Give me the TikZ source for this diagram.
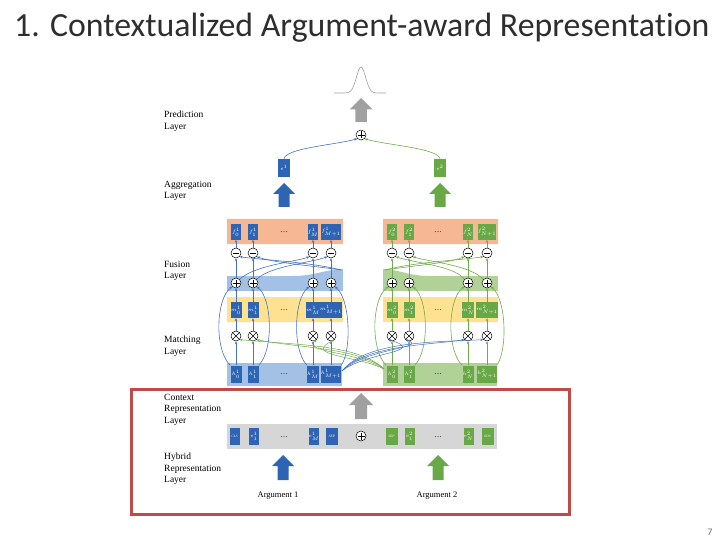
\documentclass[tikz,border=0pt]{standalone}
\usepackage{fontspec}
\setmainfont{Liberation Serif}
\newfontfamily\titlefont[Ligatures=NoCommon]{Carlito}
\usetikzlibrary{arrows.meta}
\definecolor{boxblue}{RGB}{45,100,180}
\definecolor{boxgreen}{RGB}{104,168,70}
\definecolor{lineblue}{RGB}{68,114,196}
\definecolor{linegreen}{RGB}{112,173,71}
\definecolor{bandorange}{RGB}{246,184,148}
\definecolor{bandblue}{RGB}{163,193,228}
\definecolor{bandgreen}{RGB}{176,210,152}
\definecolor{bandyellow}{RGB}{255,226,145}
\definecolor{bandgray}{RGB}{214,214,214}
\definecolor{arrowgray}{RGB}{160,160,160}
\definecolor{framered}{RGB}{190,75,72}
\newcommand\fatup[5]{%
  \fill[#5] (#1-#4*0.5,#3) -- (#1-#4*0.5,#2+#4) -- (#1-#4,#2+#4) -- (#1,#2) -- (#1+#4,#2+#4) -- (#1+#4*0.5,#2+#4) -- (#1+#4*0.5,#3) -- cycle;}
\begin{document}
\begin{tikzpicture}[x=1pt,y=-1pt,
  bb/.style={fill=boxblue, minimum width=10pt, minimum height=15pt, inner sep=0pt, text=white, font=\fontsize{3.5}{3.5}\selectfont},
  gb/.style={bb, fill=boxgreen},
  opn/.style={circle, draw=black, fill=white, minimum size=10pt, inner sep=0pt, line width=0.5pt},
  oplus/.style={opn, path picture={\draw[line width=0.5pt] ([yshift=-1.5pt]path picture bounding box.north) -- ([yshift=1.5pt]path picture bounding box.south) ([xshift=1.5pt]path picture bounding box.west) -- ([xshift=-1.5pt]path picture bounding box.east);}},
  ominus/.style={opn, path picture={\draw[line width=0.5pt] ([xshift=2pt]path picture bounding box.west) -- ([xshift=-2pt]path picture bounding box.east);}},
  otimes/.style={opn, path picture={\draw[line width=0.5pt] (path picture bounding box.north west) -- (path picture bounding box.south east) (path picture bounding box.north east) -- (path picture bounding box.south west);}},
  barr/.style={draw=lineblue, line width=0.6pt, -{Stealth[length=3pt,width=2.6pt]}},
  garr/.style={draw=linegreen, line width=0.6pt, -{Stealth[length=3pt,width=2.6pt]}},
  lbl/.style={anchor=north west, inner sep=0pt, align=left, font=\fontsize{9.5}{11.5}\selectfont},
  dots/.style={inner sep=0pt, font=\fontsize{8}{8}\selectfont}
]
\useasboundingbox (0,0) rectangle (720,540);
% title and page number
\node[anchor=base west, inner sep=0pt, font=\titlefont\fontsize{33.8}{34}\selectfont, text=black!82] (title) at (14,37) {1. Contextualized Argument-award Representation};
\node[anchor=base, inner sep=0pt, font=\titlefont\fontsize{10}{10}\selectfont, text=black!55] (pg) at (710,535) {7};
% layer labels
\node[lbl] (lp) at (164,111) {Prediction\\Layer};
\node[lbl] (la) at (164,181) {Aggregation\\Layer};
\node[lbl] (lf) at (164,261) {Fusion\\Layer};
\node[lbl] (lm) at (164,336) {Matching\\Layer};
\node[lbl] (lc) at (164,394) {Context\\Representation\\Layer};
\node[lbl] (lh) at (164,453) {Hybrid\\Representation\\Layer};
% bands
\fill[bandorange] (227,219) rectangle (343,244) (383,219) rectangle (498,244);
\fill[bandblue] (227,276) rectangle (343,291);
\fill[bandblue] (292,276) .. controls (315,276) and (322,270) .. (343,269) -- (343,276) -- cycle;
\fill[bandgreen] (383,276) rectangle (498,291);
\fill[bandgreen] (430,276) .. controls (408,276) and (402,270) .. (383,269) -- (383,276) -- cycle;
\fill[bandyellow] (227,297) rectangle (343,322) (383,297) rectangle (498,322);
\fill[bandblue] (227,363) rectangle (342,386);
\fill[bandgreen] (383,363) rectangle (497,386);
\fill[bandgray] (227,424) rectangle (497,449);
% bell curve
\draw[arrowgray, line width=0.6pt] plot[domain=-27:25, samples=80, smooth] (\x+361, {93-26*exp(-(\x/6.5)^2)});
% fat arrows
\fatup{361}{98}{122}{11.5}{arrowgray}
\fatup{284}{183}{207}{11}{boxblue}
\fatup{440}{183}{207}{11}{boxgreen}
\fatup{361}{393}{419}{12}{arrowgray}
\fatup{283}{455}{480}{11}{boxblue}
\fatup{438}{455}{480}{11}{boxgreen}
% top part
\node[oplus] (top) at (361,135) {};
\node[bb, minimum width=12pt, minimum height=18pt] (e1) at (284,168) {$e^1$};
\node[gb, minimum width=12pt, minimum height=18pt] (e2) at (440,168) {$e^2$};
\draw[barr] (e1.north) .. controls (286,148) and (335,145) .. (top.south west);
\draw[garr] (e2.north) .. controls (438,148) and (385,145) .. (top.south east);
% columns
\foreach \x/\s [count=\i] in {236/0,253/1,313/M,331/{M+1}} {
  \node[bb] (bf\i) at (\x,232) {$f^1_{\s}$};
  \node[ominus] (bs\i) at (\x,253) {};
  \node[oplus] (bp\i) at (\x,283) {};
  \node[bb, minimum width=11pt, minimum height=16pt] (bm\i) at (\x,310) {$m^1_{\s}$};
  \node[otimes] (bx\i) at (\x,336) {};
  \node[bb, minimum width=11pt, minimum height=17pt] (bh\i) at (\x,374) {$h^1_{\s}$};
  \draw[barr] (bh\i) -- (bx\i);
  \draw[barr] (bx\i) -- (bm\i);
  \draw[barr] (bm\i) -- (bp\i);
  \draw[barr] (bp\i) -- (bs\i);
  \draw[barr] (bs\i) -- (bf\i);
}
\foreach \x/\s [count=\i] in {392/0,409/1,468/N,487/{N+1}} {
  \node[gb] (gf\i) at (\x,232) {$f^2_{\s}$};
  \node[ominus] (gs\i) at (\x,253) {};
  \node[oplus] (gp\i) at (\x,283) {};
  \node[gb, minimum width=11pt, minimum height=16pt] (gm\i) at (\x,310) {$m^2_{\s}$};
  \node[otimes] (gx\i) at (\x,336) {};
  \node[gb, minimum width=11pt, minimum height=17pt] (gh\i) at (\x,374) {$h^2_{\s}$};
  \draw[garr] (gh\i) -- (gx\i);
  \draw[garr] (gx\i) -- (gm\i);
  \draw[garr] (gm\i) -- (gp\i);
  \draw[garr] (gp\i) -- (gs\i);
  \draw[garr] (gs\i) -- (gf\i);
}
% dots
\foreach \y [count=\i] in {232,310,374,437} {
  \node[dots] (bd\i) at (284,\y) {\dots};
  \node[dots] (gd\i) at (438,\y) {\dots};
}
% residual loops h -> plus
\draw[barr] (bh1.north west) .. controls (214,350) and (216,298) .. (bp1.south west);
\draw[barr] (bh2.north east) .. controls (274,350) and (272,298) .. (bp2.south east);
\draw[barr] (bh3.north west) .. controls (292,350) and (294,298) .. (bp3.south west);
\draw[barr] (bh4.north east) .. controls (352,350) and (350,298) .. (bp4.south east);
\draw[garr] (gh1.north west) .. controls (370,350) and (372,298) .. (gp1.south west);
\draw[garr] (gh2.north east) .. controls (430,350) and (428,298) .. (gp2.south east);
\draw[garr] (gh3.north west) .. controls (446,350) and (448,298) .. (gp3.south west);
\draw[garr] (gh4.north east) .. controls (508,350) and (506,298) .. (gp4.south east);
% fusion cross connections
\coordinate (bfj) at (341,270);
\coordinate (gfj) at (385,270);
\draw[barr] (bp1.north east) .. controls (255,265) and (295,262) .. (bs3.south west);
\draw[barr] (bp2.north east) .. controls (270,266) and (310,263) .. (bs4.south west);
\draw[barr] (bfj) .. controls (310,262) and (262,260) .. (bs1.south east);
\draw[barr] (bfj) .. controls (315,266) and (275,263) .. (bs2.south east);
\draw[garr] (gp4.north west) .. controls (470,265) and (430,262) .. (gs2.south east);
\draw[garr] (gp3.north west) .. controls (455,266) and (415,263) .. (gs1.south east);
\draw[garr] (gfj) .. controls (415,262) and (462,260) .. (gs4.south west);
\draw[garr] (gfj) .. controls (410,266) and (450,263) .. (gs3.south west);
% matching cross connections
\coordinate (bmj) at (342,371);
\coordinate (gmj) at (384,369);
\foreach \i/\a in {1/345,2/348,3/352,4/356} {
  \draw[garr, line width=0.5pt] (gmj) .. controls (360,\a) and (300,\a) .. (bx\i.south east);
}
\foreach \i/\a in {1/352,2/348,3/345,4/342} {
  \draw[barr, line width=0.5pt] (bmj) .. controls (365,\a) and (430,\a) .. (gx\i.south west);
}
% context row
\node[bb, minimum height=17pt] (cls) at (234.5,436) {\textit{CLS}};
\node[bb, minimum height=17pt] (ce1) at (254,436) {$e^1_1$};
\node[bb, minimum height=17pt] (ceM) at (314,436) {$e^1_M$};
\node[bb, minimum width=12pt, minimum height=17pt] (sep1) at (332,436) {\textit{SEP}};
\node[oplus] (cplus) at (361,436) {};
\node[gb, minimum width=12pt, minimum height=17pt] (sep2) at (391.5,436) {\textit{SEP}};
\node[gb, minimum height=17pt] (cf1) at (409.5,436) {$e^2_1$};
\node[gb, minimum height=17pt] (cfN) at (468.5,436) {$e^2_N$};
\node[gb, minimum width=12pt, minimum height=17pt] (eos) at (487.5,436) {\textit{EOS}};
% argument labels
\node[anchor=base, inner sep=0pt, font=\fontsize{8.5}{8.5}\selectfont] (arg1) at (278,497) {Argument 1};
\node[anchor=base, inner sep=0pt, font=\fontsize{8.5}{8.5}\selectfont] (arg2) at (437,497) {Argument 2};
% red frame
\draw[framered, line width=3pt] (131.5,389) rectangle (569,514);
\end{tikzpicture}
\end{document}
